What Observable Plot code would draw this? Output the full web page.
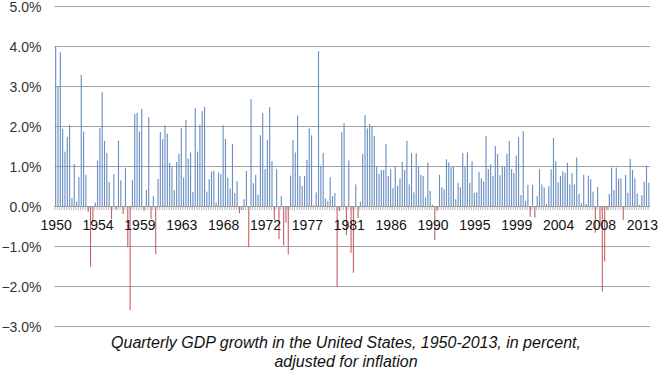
<!DOCTYPE html>
<html>
<head>
<meta charset="utf-8">
<script src="https://cdn.jsdelivr.net/npm/d3@7"></script>
<script src="https://cdn.jsdelivr.net/npm/@observablehq/plot@0.6"></script>
<style>
  body { margin: 0; background: #fff; }
  #chart { width: 659px; height: 340px; }
  #cap {
    font-family: "Liberation Sans", Arial, sans-serif;
    font-style: italic;
    font-size: 16px;
    line-height: 19px;
    text-align: center;
    padding-left: 33px;
    width: 626px;
    color: #111;
    margin-top: -7px;
  }
</style>
</head>
<body>
<div id="chart"></div>
<div id="cap">Quarterly GDP growth in the United States, 1950-2013, in percent,<br>adjusted for inflation</div>
<script>
const g1950s = [
  4.0, 3.0, 3.85, 1.93,
  1.36, 1.73, 2.03, 0.2,
  1.05, 0.11, 0.72, 3.28,
  1.86, 0.78, -0.15, -1.52,
  -0.4, 0.09, 1.13, 1.95,
  2.85, 1.63, 1.33, 0.6,
  -0.33, 0.8, -0.08, 1.63,
  0.64, -0.2, 0.96, -1.03,
  -2.6, 0.65, 2.3, 2.33,
  1.86, 2.43, -0.12, 0.4
];
const g1960s = [
  2.22, -0.32, 0.25, -1.2,
  0.68, 1.85, 1.67, 2.02,
  1.81, 1.08, 0.97, 0.4,
  1.1, 1.3, 1.95, 0.71,
  2.15, 1.18, 1.34, 0.35,
  2.45, 1.36, 2.03, 2.37,
  2.48, 0.36, 0.67, 0.86,
  0.88, 0.08, 0.84, 0.8,
  2.02, 1.68, 0.71, 0.44,
  1.55, 0.32, 0.62, -0.18
];
const g1970s = [
  -0.1, 0.17, 0.88, -1.03,
  2.67, 0.57, 0.78, 0.28,
  1.77, 2.32, 0.92, 1.65,
  2.47, 1.12, -0.35, 0.92,
  -0.83, 0.25, -0.98, -0.42,
  -1.21, 0.76, 1.65, 1.34,
  2.26, 0.75, 0.5, 0.75,
  1.15, 1.94, 1.77, 0.02,
  0.34, 3.87, 1.01, 1.33,
  0.19, 0.12, 0.72, 0.25
];
const g1980s = [
  0.32, -2.02, -0.13, 1.85,
  2.07, -0.73, 1.14, -1.17,
  -1.67, 0.54, -0.3, 0.11,
  1.3, 2.27, 1.94, 2.05,
  1.98, 1.75, 0.98, 0.8,
  0.9, 0.9, 1.55, 0.75,
  0.92, 0.45, 0.98, 0.51,
  0.69, 1.1, 0.9, 1.63,
  0.54, 1.32, 0.34, 1.32,
  0.98, 0.78, 0.75, 0.21
];
const g1990s = [
  1.09, 0.38, 0.03, -0.85,
  -0.12, 0.78, 0.47, 0.42,
  1.17, 1.09, 0.97, 0.98,
  0.17, 0.58, 0.47, 1.32,
  0.98, 1.34, 0.58, 1.12,
  0.33, 0.34, 0.85, 0.69,
  0.61, 1.75, 0.92, 1.04,
  0.75, 1.5, 1.3, 0.77,
  0.98, 0.98, 1.3, 1.63,
  0.92, 0.83, 1.26, 1.72
];
const g2000s = [
  0.27, 1.87, 0.13, 0.53,
  -0.27, 0.53, -0.29, 0.25,
  0.92, 0.54, 0.47, 0.05,
  0.5, 0.92, 1.7, 1.12,
  0.59, 0.75, 0.87, 0.83,
  1.08, 0.54, 0.82, 0.54,
  1.21, 0.3, 0.07, 0.78,
  0.05, 0.76, 0.67, 0.36,
  -0.67, 0.48, -0.5, -2.14,
  -1.39, -0.1, 0.3, 0.96
];
const g2010s = [
  0.4, 0.96, 0.69, 0.69,
  -0.35, 0.78, 0.33, 1.18,
  0.9, 0.69, 0.31, 0.03,
  0.27, 0.61, 1.01, 0.58
];

const firstYear = 1950;
const lastYear = 2013;
const quarterNames = ["Q1", "Q2", "Q3", "Q4"];
const labelQuarters = ["1950Q1","1954Q3","1959Q1","1963Q3","1968Q1","1972Q3","1977Q1",
  "1981Q3","1986Q1","1990Q3","1995Q1","1999Q3","2004Q1","2008Q3","2013Q1"];
const yTicks = [-3, -2, -1, 0, 1, 2, 3, 4, 5];

const quarters = [];
for (let y = firstYear; y <= lastYear; y++) for (const q of quarterNames) quarters.push(y + q);
const values = [].concat(g1950s, g1960s, g1970s, g1980s, g1990s, g2000s, g2010s);
const data = quarters.map((q, i) => ({q, v: values[i]}));

const bw = (659 - 54.5 - 9) / quarters.length;

const chart = Plot.plot({
  width: 659,
  height: 340,
  marginLeft: 54.5,
  marginRight: 9,
  marginTop: 6,
  marginBottom: 14,
  x: {type: "band", domain: quarters, padding: 0, axis: null},
  y: {domain: [-3, 5], axis: null},
  style: {fontFamily: "'Liberation Sans', Arial, sans-serif", fontSize: "14px", color: "#222", background: "#fff"},
  marks: [
    Plot.gridY(yTicks, {stroke: "#a3a3a3", strokeOpacity: 1}),
    Plot.barY(data.filter(d => d.v >= 0), {x: "q", y: "v", fill: "#6a8fc3", insetLeft: 0.6, insetRight: 0.6}),
    Plot.barY(data.filter(d => d.v < 0), {x: "q", y: "v", fill: "#c86468", insetLeft: 0.6, insetRight: 0.6}),
    Plot.ruleX(quarters, {x: d => d, y1: 0, y2: -0.1, dx: -bw / 2, stroke: "#a8a8a8", strokeWidth: 0.8}),
    Plot.ruleY([0], {stroke: "#9a9a9a"}),
    Plot.axisY(yTicks, {
      label: null, tickSize: 0, tickPadding: 13.5, fontSize: 14, fill: "#333", dy: 1,
      tickFormat: d => (d < 0 ? "\u2212" : "") + Math.abs(d).toFixed(1) + "%"
    }),
    Plot.text(labelQuarters, {x: d => d, y: d => 0, text: d => d.slice(0, 4), dy: 19, fontSize: 14, fill: "#111"})
  ]
});
document.getElementById("chart").appendChild(chart);
</script>
</body>
</html>
